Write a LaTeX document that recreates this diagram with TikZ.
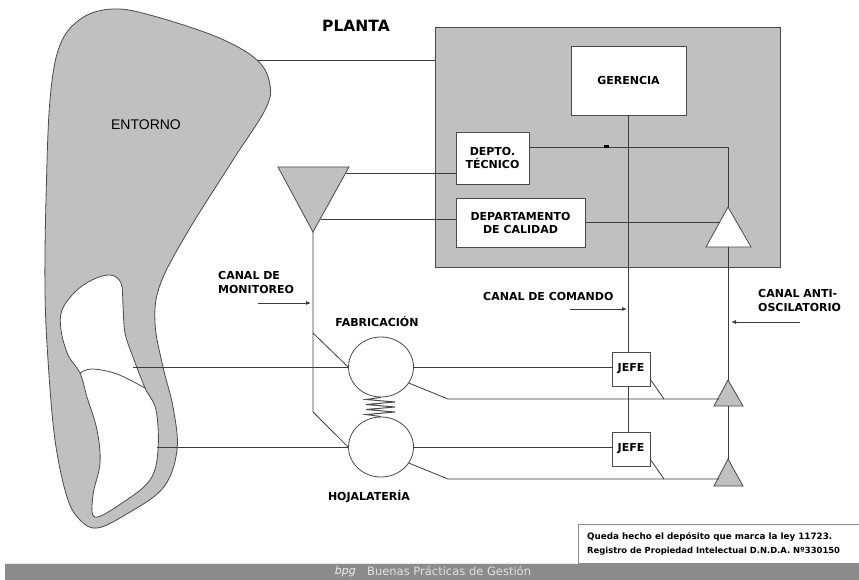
\documentclass[tikz,border=0pt]{standalone}
\usepackage{fontspec}
\setmainfont{DejaVu Sans}
\newfontfamily\arialfont{Liberation Sans}
\usetikzlibrary{arrows.meta}
\definecolor{shade}{HTML}{C0C0C0}
\definecolor{edgec}{HTML}{4A4A4A}
\definecolor{wirec}{HTML}{3C3C3C}
\definecolor{barc}{HTML}{8C8C8C}
\newcommand{\lblfont}{\bfseries\fontsize{11}{13}\selectfont}
\tikzset{
  box/.style={draw=edgec, fill=white, line width=0.8pt, inner sep=1pt, align=center, font=\lblfont},
  wire/.style={draw=wirec, line width=0.8pt},
  tag/.style={font=\lblfont, inner sep=0pt, align=left},
  ptr/.style={wire, -{Latex[length=5pt,width=4pt]}},
  wheel/.style={draw=edgec, fill=white, line width=0.8pt, ellipse, minimum width=65pt, minimum height=60pt, inner sep=0pt}
}
\usetikzlibrary{shapes.geometric}
\begin{document}
\begin{tikzpicture}[x=1pt,y=-1pt]
\useasboundingbox (0,0) rectangle (859,580);
\fill[white] (0,0) rectangle (859,580);

% ---- environment blob ----
\filldraw[fill=shade, draw=edgec, line width=0.8pt]
  plot[smooth cycle, tension=0.6] coordinates {(113,9) (150,15) (217,37) (257,60) (270,85) (265,110) (233,160) (187,233) (160,285) (155,323) (163,367) (173,407) (177,450) (163,488) (125,515) (97,528) (80,520) (67,497) (55,440) (48,360) (45,290) (46,200) (50,100) (60,45) (82,18)};
\filldraw[fill=white, draw=edgec, line width=0.8pt]
  plot[smooth cycle, tension=0.6] coordinates {(110,275) (121,283) (123,305) (125,333) (133,357) (145,388) (156,410) (158,450) (150,480) (122,503) (95,517) (93,495) (100,463) (97,430) (87,397) (80,373) (68,355) (61,330) (62,310) (75,292) (92,280)};
\draw[edgec, line width=0.8pt] plot[smooth, tension=0.6] coordinates {(80,373) (92,369) (117,374) (145,388)};
\node[font=\arialfont\fontsize{14}{16}\selectfont] (entorno) at (146,125) {ENTORNO};
\coordinate (envedge) at (258,60);
\coordinate (envtop) at (133,367);
\coordinate (envbot) at (157,447);

% ---- plant ----
\node[font=\bfseries\fontsize{15.5}{17}\selectfont] (plantatitle) at (356,26) {PLANTA};
\node[draw=edgec, fill=shade, line width=0.9pt, minimum width=345pt, minimum height=240pt, inner sep=0pt] (planta) at (607.5,147) {};
\node[box, minimum width=115pt, minimum height=69pt] (ger) at (628.5,80.5) {GERENCIA};
\node[box, minimum width=73pt, minimum height=52pt] (tec) at (492.5,158) {DEPTO.\\TÉCNICO};
\node[box, minimum width=129pt, minimum height=49pt] (cal) at (520.5,222.5) {DEPARTAMENTO\\DE CALIDAD};

% ---- triangles ----
\filldraw[fill=shade, draw=edgec, line width=0.8pt] (278,167) -- (349,167) -- (313,232) -- cycle;
\coordinate (mon) at (313,232);
\filldraw[fill=white, draw=edgec, line width=0.8pt] (728,207) -- (751,247) -- (706,247) -- cycle;
\coordinate (anti0top) at (728,207);
\coordinate (anti0bot) at (728,247);
\filldraw[fill=shade, draw=edgec, line width=0.8pt] (728,380) -- (743,406) -- (714,406) -- cycle;
\coordinate (anti1top) at (728,380);
\coordinate (anti1bot) at (728,406);
\filldraw[fill=shade, draw=edgec, line width=0.8pt] (728,459) -- (743,486) -- (714,486) -- cycle;
\coordinate (anti2top) at (728,459);

% ---- production units ----
\node[wheel] (fab) at (381,367) {};
\node[wheel] (hoj) at (381,447) {};
\node[tag, anchor=center] (fablbl) at (377,321) {FABRICACIÓN};
\node[tag, anchor=center] (hojlbl) at (369,496) {HOJALATERÍA};
\draw[edgec, line width=1pt] (fab.south) -- (366,399.5) -- (395,402) -- (366,404.5) -- (395,407) -- (366,409.5) -- (395,412) -- (366,414.5) -- (hoj.north);

\node[box, minimum width=38pt, minimum height=34pt] (jefe1) at (631,369) {JEFE};
\node[box, minimum width=38pt, minimum height=34pt] (jefe2) at (631,449) {JEFE};

% ---- links environment / plant ----
\draw[wire] (envedge) -- (envedge -| planta.west);
\draw[wire] (346,173) -- (346,173 -| tec.west);
\draw[wire] (321,219) -- (321,219 -| cal.west);

% ---- technical loop ----
\coordinate (corner) at (728,147);
\draw[wire] (tec.east |- 0,147) -- (corner) -- (anti0top);
\fill[black] (604,145.5) rectangle (609,148.5);
\draw[wire] (cal.east |- 0,222) -- (720,222);

% ---- anti-oscillation channel ----
\draw[wire] (anti0bot) -- (anti1top);
\draw[wire] (anti1bot) -- (anti2top);

% ---- command channel ----
\draw[wire] (ger.south) -- (ger.south |- jefe1.north);
\draw[wire] (ger.south |- jefe1.south) -- (ger.south |- jefe2.north);

% ---- monitoring channel ----
\coordinate (mbranch) at (313,333);
\coordinate (mlow) at (313,412);
\draw[wire] (mon) -- (mlow) -- (hoj.west);
\draw[wire] (mbranch) -- (fab.west);

% ---- flows through the units ----
\draw[wire] (envtop) -- (fab.west);
\draw[wire] (fab.east) -- (fab.east -| jefe1.west);
\draw[wire] (envbot) -- (hoj.west);
\draw[wire] (hoj.east) -- (hoj.east -| jefe2.west);
\draw[wire] (fab.-30) -- (448,399) -- (719,399);
\draw[wire] (hoj.-30) -- (448,479) -- (719,479);
\draw[wire] (650,379) -- (664,399);
\draw[wire] (650,459) -- (664,479);

% ---- channel labels ----
\node[tag, anchor=north west] (canalmon) at (218,271) {CANAL DE\\[1pt]MONITOREO};
\draw[ptr] (258,303) -- (311,303);
\node[tag, anchor=west] (canalcom) at (483,296) {CANAL DE COMANDO};
\draw[ptr] (570,309) -- (627,309);
\node[tag, anchor=north west] (canalanti) at (758,289) {CANAL ANTI-\\[1pt]OSCILATORIO};
\draw[ptr] (800,322) -- (731,322);

% ---- footer ----
\fill[barc] (5,563) rectangle (859,580);
\draw[white!80!barc, line width=0.8pt] (5,563) -- (859,563);
\node[draw=barc, fill=white, line width=0.8pt, minimum width=281pt, minimum height=39pt, inner sep=0pt] (reg) at (718.5,543.5) {};
\node[anchor=west, inner sep=0pt, font=\bfseries\fontsize{8.8}{10}\selectfont] (regl1) at (587,537) {Queda hecho el depósito que marca la ley 11723.};
\node[anchor=west, inner sep=0pt, font=\bfseries\fontsize{8.4}{10}\selectfont] (regl2) at (587,551) {Registro de Propiedad Intelectual D.N.D.A. Nº330150};
\node[anchor=east, inner sep=0pt, text=white!85!barc, font=\itshape\fontsize{11}{13}\selectfont] (bpg) at (356,571) {bpg};
\node[anchor=west, inner sep=0pt, text=white!75!barc, font=\fontsize{11.5}{13}\selectfont] (bpgname) at (367,571) {Buenas Prácticas de Gestión};
\end{tikzpicture}
\end{document}
